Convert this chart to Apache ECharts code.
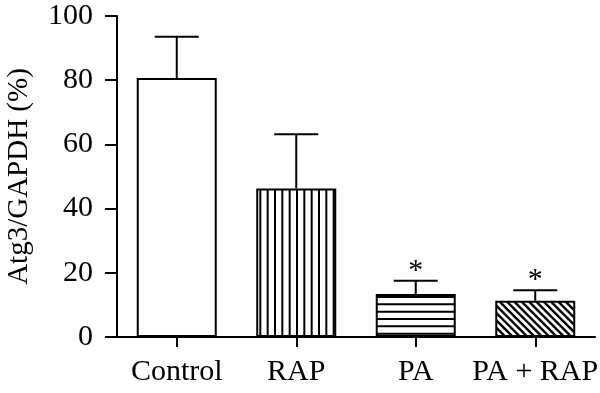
<!DOCTYPE html>
<html>
<head>
<meta charset="utf-8">
<script src="https://cdn.jsdelivr.net/npm/echarts@6/dist/echarts.min.js"></script>
<style>html,body{margin:0;padding:0;background:#fff}#chart{width:600px;height:393px}</style>
</head>
<body>
<div id="chart"></div>
<script>
const categories = ['Control', 'RAP', 'PA', 'PA + RAP'];
const means = [80.7, 46.3, 13.4, 11.3];
const errUpper = [93.5, 63.2, 17.5, 14.6];
const significance = ['', '', '*', '*'];
const yTicks = [0, 20, 40, 60, 80, 100];

function makePattern(kind) {
  const c = document.createElement('canvas');
  const s = 22;
  c.width = s; c.height = s;
  const ctx = c.getContext('2d');
  ctx.fillStyle = '#fff';
  ctx.fillRect(0, 0, s, s);
  ctx.strokeStyle = '#000';
  ctx.lineWidth = kind === 'diag' ? 2.4 : 2;
  const step = s / 3;
  ctx.beginPath();
  if (kind === 'vertical') {
    for (let i = 0; i < 3; i++) { const x = i * step + step / 2; ctx.moveTo(x, 0); ctx.lineTo(x, s); }
  } else if (kind === 'horizontal') {
    for (let i = 0; i < 3; i++) { const y = i * step + step / 2; ctx.moveTo(0, y); ctx.lineTo(s, y); }
  } else if (kind === 'diag') {
    for (let i = -3; i <= 6; i++) { const o = i * step; ctx.moveTo(o - s, -s); ctx.lineTo(o + 2 * s, 2 * s); }
  }
  ctx.stroke();
  return { image: c, repeat: 'repeat' };
}

const fills = ['#ffffff', makePattern('vertical'), makePattern('horizontal'), makePattern('diag')];
const FONT = '"Liberation Serif", "DejaVu Serif", serif';

const chart = echarts.init(document.getElementById('chart'), null, { renderer: 'canvas' });
chart.setOption({
  animation: false,
  backgroundColor: '#fff',
  grid: { left: 117, right: 5, top: 16, bottom: 56, containLabel: false, outerBoundsMode: 'none' },
  xAxis: {
    type: 'category',
    data: categories,
    axisLine: { lineStyle: { color: '#000', width: 2 } },
    axisTick: { show: true, alignWithLabel: true, length: 10, lineStyle: { color: '#000', width: 2 } },
    axisLabel: { color: '#000', fontFamily: FONT, fontSize: 30, margin: 20, interval: 0 }
  },
  yAxis: {
    type: 'value',
    min: 0, max: 100, interval: 20,
    name: 'Atg3/GAPDH (%)',
    nameLocation: 'middle',
    nameGap: 83,
    nameTextStyle: { color: '#000', fontFamily: FONT, fontSize: 29 },
    splitLine: { show: false },
    axisLine: { show: true, lineStyle: { color: '#000', width: 2 } },
    axisTick: { show: true, length: 12, lineStyle: { color: '#000', width: 2 } },
    axisLabel: { color: '#000', fontFamily: FONT, fontSize: 30, margin: 24,
      formatter: v => yTicks.includes(v) ? String(v) : '' }
  },
  series: [
    {
      type: 'bar',
      data: means.map((v, i) => ({ value: v, itemStyle: { color: fills[i] } })),
      barWidth: 80,
      itemStyle: { borderColor: '#000', borderWidth: 2 },
      z: 2
    },
    {
      type: 'custom',
      z: 3,
      data: means.map((m, i) => [i, m, errUpper[i]]),
      renderItem: function (params, api) {
        const i = api.value(0);
        const base = api.coord([i, api.value(1)]);
        const top = api.coord([i, api.value(2)]);
        const half = 22;
        const children = [
          { type: 'line', shape: { x1: base[0], y1: base[1], x2: top[0], y2: top[1] }, style: { stroke: '#000', lineWidth: 2 } },
          { type: 'line', shape: { x1: top[0] - half, y1: top[1], x2: top[0] + half, y2: top[1] }, style: { stroke: '#000', lineWidth: 2 } }
        ];
        const mark = significance[params.dataIndex];
        if (mark) {
          children.push({ type: 'text', style: { text: mark, x: top[0], y: top[1] - 10, textAlign: 'center', textVerticalAlign: 'middle', font: '30px ' + FONT, fill: '#000' } });
        }
        return { type: 'group', children: children };
      }
    }
  ]
});
</script>
</body>
</html>
